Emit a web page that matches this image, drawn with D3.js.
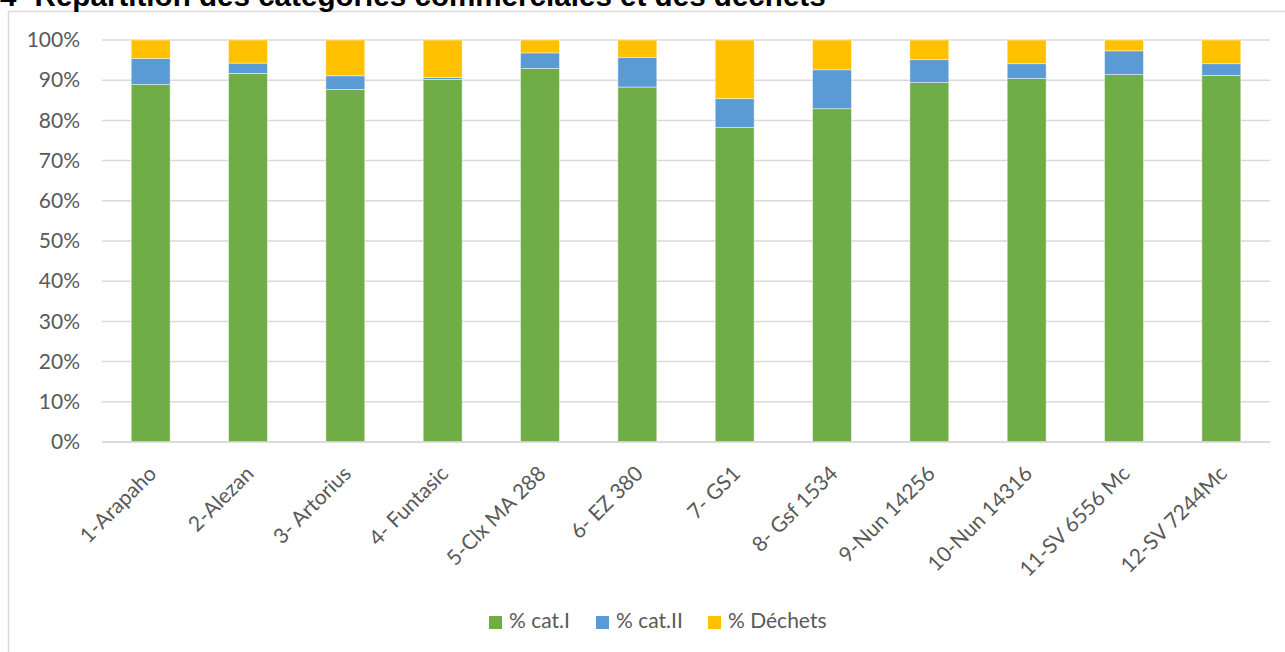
<!DOCTYPE html>
<html>
<head>
<meta charset="utf-8">
<script src="https://cdn.jsdelivr.net/npm/d3@7"></script>
<style>
  body { margin: 0; background: #fff; }
  svg { display: block; }
  .tick text { font-family: Lato, "Open Sans", sans-serif; fill: #595959; }
</style>
</head>
<body>
<div id="chart"></div>
<script>
// Varieties along the x axis
var varieties = ["1-Arapaho", "2-Alezan", "3- Artorius", "4- Funtasic", "5-Clx MA 288", "6- EZ 380",
  "7- GS1", "8- Gsf 1534", "9-Nun 14256", "10-Nun 14316", "11-SV 6556 Mc", "12-SV 7244Mc"];

// Share of each category (%)
var catI    = [88.9, 91.7, 87.7, 90.2, 92.9, 88.3, 78.2, 82.9, 89.4, 90.4, 91.4, 91.2];
var catII   = [6.5, 2.55, 3.4, 0.5, 3.9, 7.4, 7.2, 9.7, 5.7, 3.7, 5.9, 2.9];
var dechets = [4.6, 5.75, 8.9, 9.3, 3.2, 4.3, 14.6, 7.4, 4.9, 5.9, 2.7, 5.9];

var seriesNames = ["% cat.I", "% cat.II", "% Déchets"];
var yTicks = [0, 10, 20, 30, 40, 50, 60, 70, 80, 90, 100];

var colors = ["#70AD47", "#5B9BD5", "#FFC000"];

var width = 1285, height = 652;

var svg = d3.select("#chart").append("svg")
  .attr("width", width)
  .attr("height", height);

// chart frame (left and top edges visible)
svg.append("line").attr("x1", 8.5).attr("x2", 8.5).attr("y1", 11.5).attr("y2", height)
  .attr("stroke", "#D9D9D9").attr("stroke-width", 1.5);
svg.append("line").attr("x1", 8.5).attr("x2", width).attr("y1", 11.5).attr("y2", 11.5)
  .attr("stroke", "#D9D9D9").attr("stroke-width", 1.5);

// title, cut at the top of the picture as in the original
svg.append("text")
  .attr("x", 0)
  .attr("y", 6)
  .attr("font-family", "Liberation Sans, Arial, sans-serif")
  .attr("font-weight", "bold")
  .attr("font-size", 29.6)
  .attr("fill", "#000")
  .text("4- Répartition des catégories commerciales et des déchets");

var plotLeft = 102, plotRight = 1270, plotTop = 40, plotBottom = 442;

var xScale = d3.scaleBand()
  .domain(varieties)
  .range([plotLeft, plotRight])
  .paddingInner(0.6)
  .paddingOuter(0.3);

var yScale = d3.scaleLinear()
  .domain([0, 100])
  .range([plotBottom, plotTop]);

// gridlines
svg.append("g")
  .selectAll("line")
  .data(yTicks)
  .enter()
  .append("line")
  .attr("x1", plotLeft)
  .attr("x2", plotRight)
  .attr("y1", function(d) { return yScale(d); })
  .attr("y2", function(d) { return yScale(d); })
  .attr("stroke", "#D9D9D9")
  .attr("stroke-width", 1.5);

// y axis labels
var yAxis = d3.axisLeft(yScale)
  .tickValues(yTicks)
  .tickSize(0)
  .tickPadding(22)
  .tickFormat(function(d) { return d + "%"; });

svg.append("g")
  .attr("transform", "translate(" + plotLeft + ",0)")
  .call(yAxis)
  .call(function(g) { g.select(".domain").remove(); })
  .selectAll("text")
  .attr("font-size", 21);

// build the stacked table
var table = varieties.map(function(v, i) {
  return { name: v, s0: catI[i], s1: catII[i], s2: dechets[i] };
});
var stack = d3.stack().keys(["s0", "s1", "s2"]);
var layers = stack(table);

svg.append("g")
  .selectAll("g")
  .data(layers)
  .enter()
  .append("g")
  .attr("fill", function(d, i) { return colors[i]; })
  .selectAll("rect")
  .data(function(d) { return d; })
  .enter()
  .append("rect")
  .attr("x", function(d) { return xScale(d.data.name); })
  .attr("width", xScale.bandwidth())
  .attr("y", function(d) { return yScale(d[1]); })
  .attr("height", function(d) { return yScale(d[0]) - yScale(d[1]); })
  .attr("stroke", "#fff")
  .attr("stroke-opacity", 0.6)
  .attr("stroke-width", 0.75);

// x axis line at 0%
svg.append("line")
  .attr("x1", plotLeft).attr("x2", plotRight)
  .attr("y1", plotBottom).attr("y2", plotBottom)
  .attr("stroke", "#D9D9D9").attr("stroke-width", 1.5);

// x axis labels, rotated
var xAxis = d3.axisBottom(xScale).tickSize(0).tickPadding(0);
svg.append("g")
  .attr("transform", "translate(0," + plotBottom + ")")
  .call(xAxis)
  .call(function(g) { g.select(".domain").remove(); })
  .selectAll("text")
  .attr("font-size", 21)
  .attr("text-anchor", "end")
  .attr("y", 0)
  .attr("dy", 0)
  .attr("transform", "translate(7,33) rotate(-45)");

// legend
var legendX = [489, 596, 708];
var legend = svg.append("g")
  .selectAll("g")
  .data(seriesNames)
  .enter()
  .append("g")
  .attr("transform", function(d, i) { return "translate(" + legendX[i] + ",616)"; });

legend.append("rect")
  .attr("width", 13)
  .attr("height", 13)
  .attr("fill", function(d, i) { return colors[i]; });

legend.append("text")
  .attr("x", 20)
  .attr("y", 12)
  .attr("font-family", "Lato, 'Open Sans', sans-serif")
  .attr("font-size", 21)
  .attr("fill", "#595959")
  .text(function(d) { return d; });
</script>
</body>
</html>
